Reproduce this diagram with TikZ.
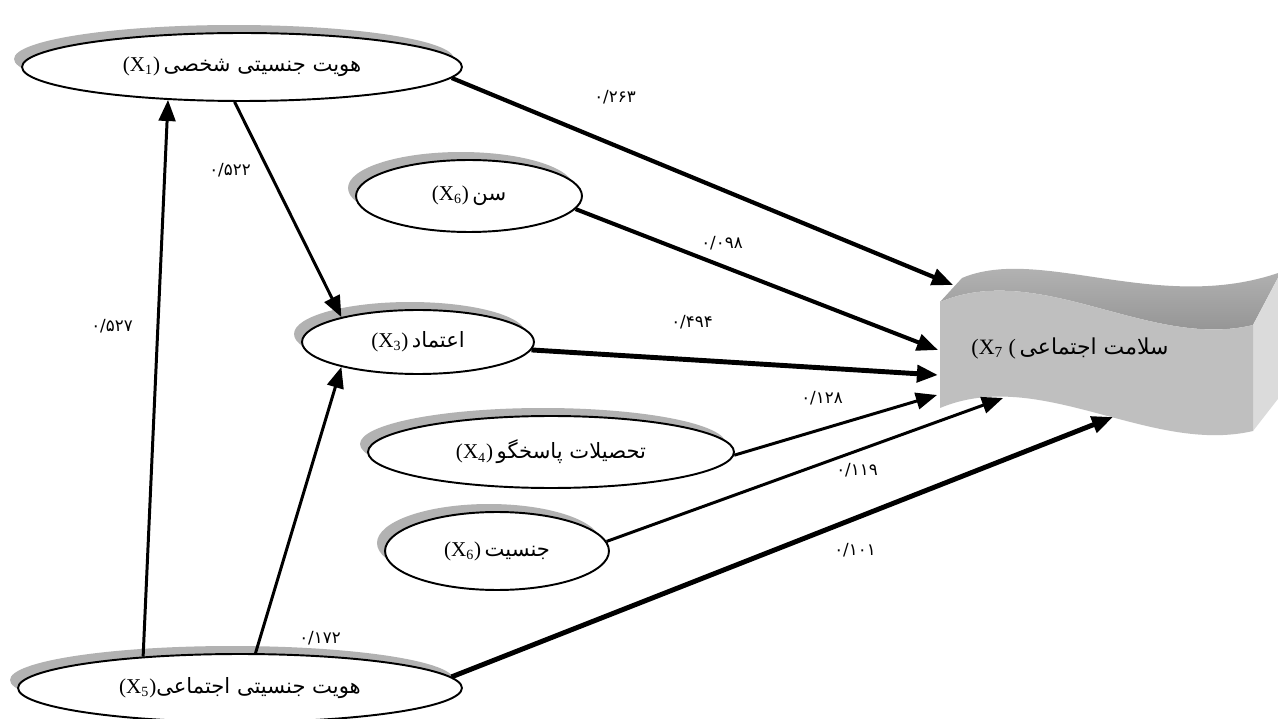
\documentclass[tikz,border=0pt]{standalone}
\usepackage{fontspec}
\setmainfont{Liberation Serif}
\newfontfamily\fa[Script=Arabic]{DejaVu Sans}
\TeXXeTstate=1
\usetikzlibrary{shapes.geometric,arrows.meta}
\newcommand{\shnode}[6]{%
  \node[shd,minimum width=#4,minimum height=#5] at (#2-8,#3-8) {};
  \node[ell,minimum width=#4,minimum height=#5] (#1) at (#2,#3) {#6};}
\begin{document}
\begin{tikzpicture}[x=0.02cm,y=-0.02cm,
  ell/.style={ellipse,draw=black,line width=1.1pt,fill=white,inner sep=0pt,font=\fontsize{12}{14}\selectfont},
  shd/.style={ellipse,fill=black!30,inner sep=0pt},
  lbl/.style={font=\fa\fontsize{9.5}{11}\selectfont,inner sep=0pt},
  arr/.style={-{Triangle[length=12pt,width=9.5pt]},line width=#1}]
\useasboundingbox (0,0) rectangle (1278,719);
\fill[white] (0,0) rectangle (1278,719);
\clip (0,0) rectangle (1278,719);
% X7 wavy 3D box
\shade[top color=black!26,bottom color=black!45]
  (940,302) .. controls (1040,260) and (1150,350) .. (1253,325)
  -- (1281,272) .. controls (1160,315) and (1040,245) .. (962,278) -- cycle;
\fill[black!14] (1253,325) -- (1281,272) -- (1281,395) -- (1253,431) -- cycle;
\fill[black!25]
  (940,302) .. controls (1040,260) and (1150,350) .. (1253,325)
  -- (1253,431) .. controls (1150,455) and (1040,366) .. (940,408) -- cycle;
\node[font=\fontsize{12.5}{14}\selectfont,inner sep=0pt] (x7) at (1070,348)
  {(X\textsubscript{7}\ (\,{\fa\beginR سلامت اجتماعی\endR}};
\coordinate (t1) at (953,285);
\coordinate (t2) at (938,350);
\coordinate (t3) at (938,375);
\coordinate (t4) at (937,395);
\coordinate (t5) at (1003,398);
\coordinate (t6) at (1113,417);
% ellipses
\shnode{x1}{242}{67}{8.8cm}{1.36cm}{(X\textsubscript{1})\,{\fa\beginR هویت جنسیتی شخصی\endR}}
\shnode{x6a}{469}{196}{4.52cm}{1.44cm}{(X\textsubscript{6})\,{\fa\beginR سن\endR}}
\shnode{x3}{418}{342}{4.64cm}{1.28cm}{(X\textsubscript{3})\,{\fa\beginR اعتماد\endR}}
\shnode{x4}{551}{452}{7.32cm}{1.44cm}{(X\textsubscript{4})\,{\fa\beginR تحصیلات پاسخگو\endR}}
\shnode{x6b}{497}{551}{4.48cm}{1.56cm}{(X\textsubscript{6})\,{\fa\beginR جنسیت\endR}}
\shnode{x5}{240}{688}{8.88cm}{1.36cm}{(X\textsubscript{5}){\fa\beginR هویت جنسیتی اجتماعی\endR}}
% connectors
\draw[arr=2.4pt] (x1.-3) -- (t1);
\draw[arr=1.7pt] (x1.-102) -- (x3.162);
\draw[arr=2.3pt] (x6a.-7) -- (t2);
\draw[arr=2.8pt] (x3.-4) -- (t3);
\draw[arr=1.7pt] (x4.-1) -- (t4);
\draw[arr=1.7pt] (x6b.5) -- (t5);
\draw[arr=2.8pt] (x5.3) -- (t6);
\draw[arr=1.7pt] (x5.162) -- (x1.-156);
\draw[arr=1.7pt] (x5.66) -- (x3.-162);
% labels
\node[lbl] (l1) at (615,97) {۰/۲۶۳};
\node[lbl] (l2) at (230,170) {۰/۵۲۲};
\node[lbl] (l3) at (722,243) {۰/۰۹۸};
\node[lbl] (l4) at (692,322) {۰/۴۹۴};
\node[lbl] (l5) at (822,398) {۰/۱۲۸};
\node[lbl] (l6) at (857,470) {۰/۱۱۹};
\node[lbl] (l7) at (855,550) {۰/۱۰۱};
\node[lbl] (l8) at (112,326) {۰/۵۲۷};
\node[lbl] (l9) at (320,638) {۰/۱۷۲};
\end{tikzpicture}
\end{document}
